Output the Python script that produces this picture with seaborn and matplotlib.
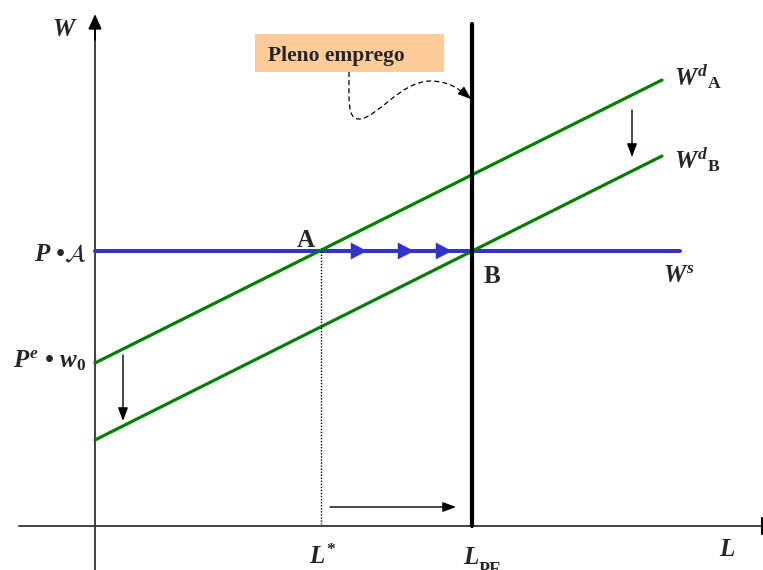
import numpy as np
import pandas as pd
import seaborn as sns
import matplotlib
matplotlib.use("Agg")
import matplotlib.pyplot as plt
from matplotlib.path import Path
from matplotlib.patches import PathPatch, Rectangle

# ---- data (diagram units = image pixels, y grows downward) ----
demand_x = [95, 662]          # span of labour-demand curves
demand_a_y = [363, 80]        # W^d_A
demand_b_y = [440, 156]       # W^d_B
supply_x = [95, 680]          # W^s span
supply_y = [251, 251]         # P·A level
l_star = 321                  # L*
l_pe = 472                    # L_PE (full employment)
flow_arrow_tips = [367, 414, 452]

sns.set_style("white")
plt.rcParams["mathtext.fontset"] = "custom"
plt.rcParams["mathtext.rm"] = "Liberation Serif:bold"
plt.rcParams["mathtext.it"] = "Liberation Serif:italic:bold"
plt.rcParams["mathtext.bf"] = "Liberation Serif:bold"

GREEN = "#008000"
BLUE = "#3333CC"

fig = plt.figure(figsize=(7.63, 5.70), dpi=100)
ax = fig.add_axes([0, 0, 1, 1])
ax.set_xlim(0, 763)
ax.set_ylim(570, 0)
ax.axis("off")

df = pd.DataFrame({
    "x": demand_x * 2,
    "y": demand_a_y + demand_b_y,
    "curve": ["A", "A", "B", "B"],
})
sns.lineplot(x=supply_x, y=supply_y, color=BLUE, lw=2.9, ax=ax)
sns.lineplot(data=df, x="x", y="y", units="curve", estimator=None,
             color=GREEN, lw=2.3, ax=ax, legend=False)

# axes
ax.plot([19, 762], [526, 526], color="#333333", lw=1.3, zorder=1)
ax.plot([95, 95], [570, 30], color="#333333", lw=1.3, zorder=1)
ax.annotate("", xy=(95, 14), xytext=(95, 40),
            arrowprops=dict(arrowstyle="-|>,head_length=0.9,head_width=0.4",
                            color="black", lw=1.3, shrinkA=0, shrinkB=0))
ax.plot([762, 762], [518, 534], color="black", lw=1.5)

# full employment line
ax.plot([l_pe, l_pe], [24, 526], color="black", lw=3.0, zorder=4)
# dotted L*
ax.plot([l_star, l_star], [supply_y[0], 524], color="black", lw=1.0,
        linestyle=(0, (1, 1.2)))

# blue flow arrowheads
for t in flow_arrow_tips:
    ax.annotate("", xy=(t, supply_y[0]), xytext=(t - 4, supply_y[0]),
                arrowprops=dict(arrowstyle="-|>,head_length=1.15,head_width=0.6",
                                color=BLUE, lw=0.1, shrinkA=0, shrinkB=0))

# small black arrows
def arr(x0, y0, x1, y1):
    ax.annotate("", xy=(x1, y1), xytext=(x0, y0),
                arrowprops=dict(arrowstyle="-|>,head_length=0.8,head_width=0.3",
                                color="black", lw=1.0, shrinkA=0, shrinkB=0))

arr(632, 110, 632, 157)
arr(123, 355, 123, 421)
arr(330, 507, 456, 507)

# Pleno emprego box
ax.add_patch(Rectangle((255, 34), 189, 38, facecolor="#FFCC99", edgecolor="none"))
ax.text(268, 61, "Pleno emprego", fontfamily="Liberation Serif", fontweight="bold",
        fontsize=15.5, ha="left", va="baseline")

verts = [(349, 72), (349, 100), (347, 120), (360, 119),
         (378, 117), (400, 82), (430, 81),
         (447, 81), (458, 88), (466, 95)]
codes = [Path.MOVETO] + [Path.CURVE4] * 9
ax.add_patch(PathPatch(Path(verts, codes), facecolor="none", edgecolor="black",
                       lw=0.9, linestyle=(0, (4, 2.5))))
ax.annotate("", xy=(471, 99), xytext=(464, 93),
            arrowprops=dict(arrowstyle="-|>,head_length=0.8,head_width=0.3",
                            color="black", lw=0.9, shrinkA=0, shrinkB=0))

# labels
serif = dict(fontfamily="Liberation Serif", fontsize=18, va="baseline")
bi = dict(serif, fontweight="bold", fontstyle="italic")
ax.text(52, 36, "W", ha="left", **bi)
ax.text(87, 261, r"P •$\mathcal{A}$", ha="right", math_fontfamily="stix", **bi)
ax.text(13, 367, r"$P^{e}$ • $w_{0}$", ha="left", **bi)
ax.text(297, 247, "A", ha="left", fontfamily="Liberation Serif", fontsize=18,
        fontweight="bold", va="baseline")
ax.text(484, 283, "B", ha="left", fontfamily="Liberation Serif", fontsize=18,
        fontweight="bold", va="baseline")
ax.text(663, 282, r"$W^{s}$", ha="left", **bi)
ax.text(674, 85, r"$W^{d}{}_{\mathrm{A}}$", ha="left", **bi)
ax.text(674, 168, r"$W^{d}{}_{\mathrm{B}}$", ha="left", **bi)
ax.text(309, 564, r"$L^{*}$", ha="left", **bi)
ax.text(463, 564, "L", ha="left", **bi)
ax.text(479, 575, "PE", ha="left", fontfamily="Liberation Serif", fontsize=13,
        fontweight="bold", va="baseline")
ax.text(719, 556, "L", ha="left", **bi)

fig.savefig("out.png", dpi=100)
